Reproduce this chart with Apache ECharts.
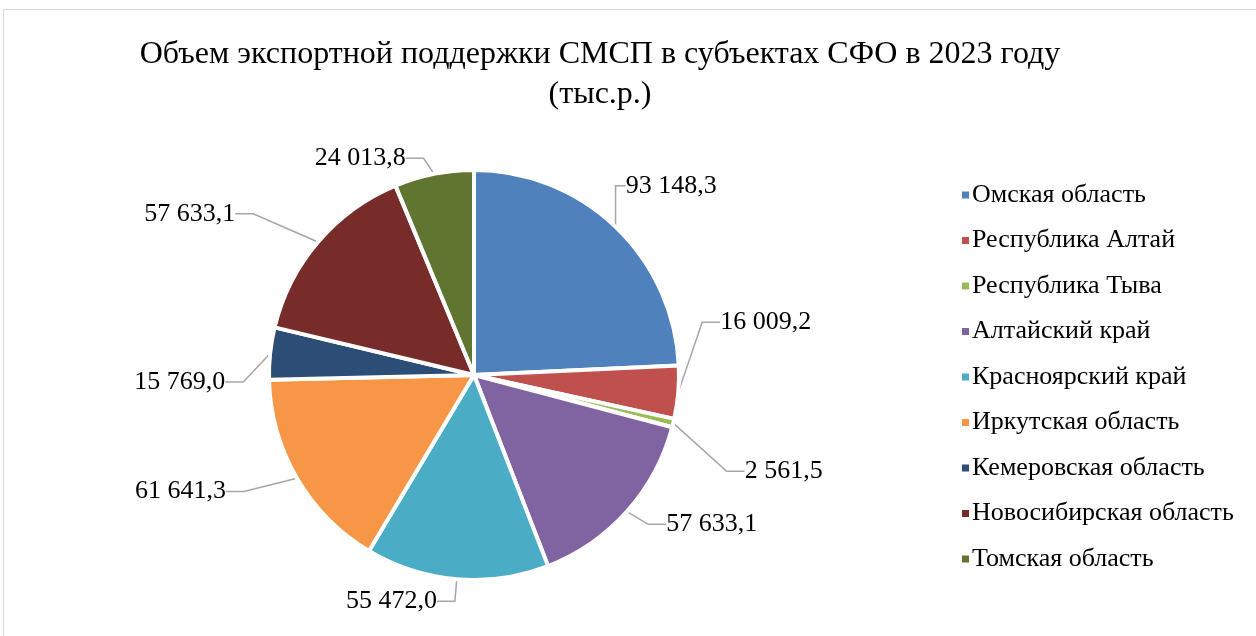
<!DOCTYPE html>
<html>
<head>
<meta charset="utf-8">
<script src="https://cdn.jsdelivr.net/npm/echarts@6/dist/echarts.min.js"></script>
<style>
  html, body { margin: 0; padding: 0; background: #fff; }
  #chart { width: 1256px; height: 636px; }
  .frame { position: absolute; left: 3px; top: 9px; width: 1260px; height: 640px; border: 1px solid #d9d9d9; pointer-events: none; }
</style>
</head>
<body>
<div id="chart"></div>
<div class="frame"></div>
<script>
const regions = [
  'Омская область',
  'Республика Алтай',
  'Республика Тыва',
  'Алтайский край',
  'Красноярский край',
  'Иркутская область',
  'Кемеровская область',
  'Новосибирская область',
  'Томская область'
]
const volumes = [93148.3, 16009.2, 2561.5, 57633.1, 55472.0, 61641.3, 15769.0, 57633.1, 24013.8]
const colors = ['#4F81BD', '#C0504D', '#9BBB59', '#8064A2', '#4BACC6', '#F79646', '#2C4D75', '#772C2A', '#5F7530']

const serif = '"Liberation Serif", "Times New Roman", serif'

// 93148.3 -> "93 148,3"
function fmt(v) {
  const [i, d] = v.toFixed(1).split('.')
  return i.replace(/\B(?=(\d{3})+(?!\d))/g, ' ') + ',' + d
}

// nudges so the labels sit where Excel put them
const labelShift = [[-28, -25], [-3, -72], [27, 43], [0, -2], [5, 0], [-29, 2], [0, 31], [-43, -14], [-1, 6]]

const chart = echarts.init(document.getElementById('chart'))

chart.setOption({
  backgroundColor: '#fff',
  color: colors,
  title: {
    text: 'Объем экспортной поддержки СМСП в субъектах СФО в 2023 году\n(тыс.р.)',
    left: 595,
    top: 30,
    textAlign: 'center',
    textStyle: { fontFamily: serif, fontSize: 32, fontWeight: 'normal', color: '#000', lineHeight: 40 }
  },
  legend: {
    orient: 'vertical',
    left: 955,
    top: 177,
    icon: 'rect',
    itemWidth: 9,
    itemHeight: 9,
    itemGap: 19.5,
    textStyle: { fontFamily: serif, fontSize: 26, color: '#000', lineHeight: 26, padding: [0, 0, 0, -3] },
    data: regions
  },
  series: [{
    type: 'pie',
    center: [474, 375],
    radius: [0, 205],
    startAngle: 90,
    clockwise: true,
    animation: false,
    itemStyle: { borderColor: '#fff', borderWidth: 4 },
    label: {
      show: true,
      position: 'outside',
      fontFamily: serif,
      fontSize: 26,
      color: '#000',
      formatter: p => fmt(p.value)
    },
    labelLine: {
      show: true,
      length: 22,
      length2: 18,
      lineStyle: { color: '#a6a6a6', width: 1.5 }
    },
    labelLayout: p => {
      const [dx, dy] = labelShift[p.dataIndex]
      const r = p.labelRect
      return {
        x: (p.align === 'right' ? r.x + r.width : r.x) + dx,
        y: r.y + r.height / 2 + dy
      }
    },
    data: regions.map((name, i) => ({ name, value: volumes[i] }))
  }]
})
</script>
</body>
</html>
